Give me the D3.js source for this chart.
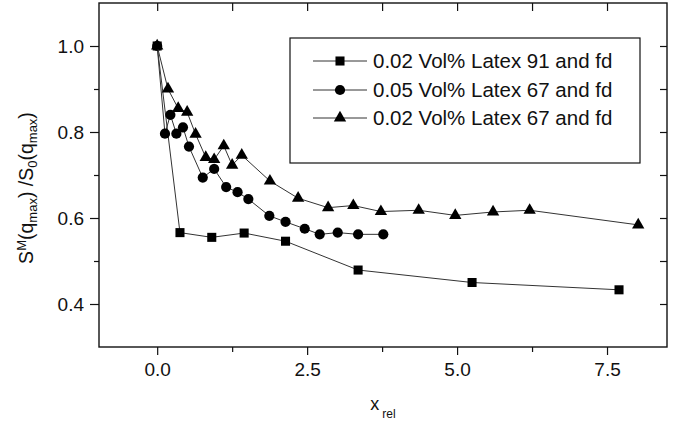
<!DOCTYPE html>
<html><head><meta charset="utf-8">
<script src="https://cdn.jsdelivr.net/npm/d3@7"></script>
<style>
body{margin:0;background:#fff}
svg{display:block}
text{font-family:"Liberation Sans",Arial,Helvetica,sans-serif;fill:#111}
</style>
</head><body>
<svg id="c" width="676" height="424"></svg>
<script>
// ---- data ----
const seriesNames = ["0.02 Vol% Latex 91 and fd", "0.05 Vol% Latex 67 and fd", "0.02 Vol% Latex 67 and fd"];
const xLatex91_002 = [0, 0.38, 0.91, 1.45, 2.14, 3.35, 5.25, 7.70];
const yLatex91_002 = [1.0, 0.566, 0.555, 0.565, 0.546, 0.479, 0.450, 0.433];
const xLatex67_005 = [0, 0.13, 0.22, 0.32, 0.43, 0.53, 0.76, 0.95, 1.15, 1.34, 1.52, 1.87, 2.14, 2.46, 2.71, 3.01, 3.35, 3.77];
const yLatex67_005 = [1.0, 0.796, 0.840, 0.796, 0.811, 0.766, 0.694, 0.714, 0.672, 0.660, 0.644, 0.605, 0.591, 0.575, 0.562, 0.566, 0.562, 0.562];
const xLatex67_002 = [0, 0.18, 0.35, 0.50, 0.64, 0.81, 0.95, 1.11, 1.25, 1.41, 1.88, 2.35, 2.85, 3.27, 3.73, 4.36, 4.97, 5.60, 6.21, 8.02];
const yLatex67_002 = [1.0, 0.900, 0.855, 0.846, 0.795, 0.741, 0.736, 0.768, 0.723, 0.746, 0.686, 0.646, 0.624, 0.629, 0.615, 0.618, 0.606, 0.614, 0.618, 0.584];
const xMajorTicks = [0, 2.5, 5.0, 7.5];
const xTickLabels = ["0.0", "2.5", "5.0", "7.5"];
const xMinorTicks = [1.25, 3.75, 6.25];
const yMajorTicks = [1.0, 0.8, 0.6, 0.4];
const yTickLabels = ["1.0", "0.8", "0.6", "0.4"];
const yMinorTicks = [0.9, 0.7, 0.5];
const markerShapes = ["square", "circle", "triangle"];

// ---- layout ----
const L = 99, R = 667, T = 3, B = 347;
const svg = d3.select("#c");
const x = d3.scaleLinear().domain([-0.97, 8.5]).range([L, R]);
const y = d3.scaleLinear().domain([0.3, 1.1]).range([B, T]);

const series = [
  {name: seriesNames[0], xs: xLatex91_002, ys: yLatex91_002, shape: markerShapes[0]},
  {name: seriesNames[1], xs: xLatex67_005, ys: yLatex67_005, shape: markerShapes[1]},
  {name: seriesNames[2], xs: xLatex67_002, ys: yLatex67_002, shape: markerShapes[2]}
];
const symType = {square: d3.symbolSquare, circle: d3.symbolCircle, triangle: d3.symbolTriangle};
const symSize = {square: 82, circle: 82, triangle: 66};

// frame
svg.append("rect").attr("x", L).attr("y", T).attr("width", R - L).attr("height", B - T)
  .attr("fill", "none").attr("stroke", "#111").attr("stroke-width", 1.4);

const fontSize = 19;
// bottom axis
const gB = svg.append("g").attr("transform", `translate(0,${B})`);
gB.call(d3.axisBottom(x).tickValues(xMajorTicks).tickSize(8).tickPadding(8)
  .tickFormat((d, i) => xTickLabels[i]));
gB.append("g").call(d3.axisBottom(x).tickValues(xMinorTicks).tickSize(5).tickFormat(""));
// left axis
const gL = svg.append("g").attr("transform", `translate(${L},0)`);
gL.call(d3.axisLeft(y).tickValues(yMajorTicks).tickSize(9).tickPadding(6)
  .tickFormat((d, i) => yTickLabels[i]));
gL.append("g").call(d3.axisLeft(y).tickValues(yMinorTicks).tickSize(5).tickFormat(""));
// top axis (inward)
const gT = svg.append("g").attr("transform", `translate(0,${T})`);
gT.call(d3.axisBottom(x).tickValues(xMajorTicks.concat(xMinorTicks)).tickSize(8).tickFormat(""));
// right axis (inward)
const gR = svg.append("g").attr("transform", `translate(${R},0)`);
gR.call(d3.axisLeft(y).tickValues(yMajorTicks.concat(yMinorTicks)).tickSize(7).tickFormat(""));

svg.selectAll(".domain").remove();
svg.selectAll(".tick line").attr("stroke", "#111").attr("stroke-width", 1.2);
svg.selectAll(".tick text").attr("font-size", fontSize).attr("fill", "#111")
  .style("font-family", '"Liberation Sans",Arial,sans-serif');

// series
const line = d3.line().x(d => x(d[0])).y(d => y(d[1]));
series.forEach(s => {
  const pts = s.xs.map((v, i) => [v, s.ys[i]]);
  svg.append("path").datum(pts).attr("d", line).attr("fill", "none")
    .attr("stroke", "#333").attr("stroke-width", 1);
  svg.append("g").selectAll("path").data(pts).join("path")
    .attr("transform", d => `translate(${x(d[0])},${y(d[1])})`)
    .attr("d", d3.symbol().type(symType[s.shape]).size(symSize[s.shape]))
    .attr("fill", "#000");
});

// legend
const lg = svg.append("g");
lg.append("rect").attr("x", 290).attr("y", 38).attr("width", 350).attr("height", 125)
  .attr("fill", "#fff").attr("stroke", "#111").attr("stroke-width", 1.2);
const rowY = [61, 90, 118];
series.forEach((s, i) => {
  lg.append("line").attr("x1", 313).attr("x2", 367).attr("y1", rowY[i]).attr("y2", rowY[i])
    .attr("stroke", "#333").attr("stroke-width", 1);
  lg.append("path").attr("transform", `translate(340,${rowY[i]})`)
    .attr("d", d3.symbol().type(symType[s.shape]).size(symSize[s.shape])).attr("fill", "#000");
  lg.append("text").attr("x", 373).attr("y", rowY[i]).attr("dy", "0.36em")
    .attr("font-size", 20.5).text(s.name);
});

// axis titles
const xt = svg.append("text").attr("x", 383).attr("y", 410).attr("font-size", 18).attr("text-anchor", "middle");
xt.append("tspan").text("x");
xt.append("tspan").attr("font-size", 12).attr("dx", 3).attr("dy", 8).text("rel");

const yt = svg.append("text").attr("transform", "translate(33,188) rotate(-90)")
  .attr("font-size", 19.5).attr("text-anchor", "middle");
yt.append("tspan").text("S");
yt.append("tspan").attr("font-size", 13).attr("dy", -7).text("M");
yt.append("tspan").attr("dy", 7).text("(q");
yt.append("tspan").attr("font-size", 13).attr("dy", 4).text("max");
yt.append("tspan").attr("dy", -4).text(") /S");
yt.append("tspan").attr("font-size", 13).attr("dy", 4).text("0");
yt.append("tspan").attr("dy", -4).text("(q");
yt.append("tspan").attr("font-size", 13).attr("dy", 4).text("max");
yt.append("tspan").attr("dy", -4).text(")");
</script>
</body></html>
